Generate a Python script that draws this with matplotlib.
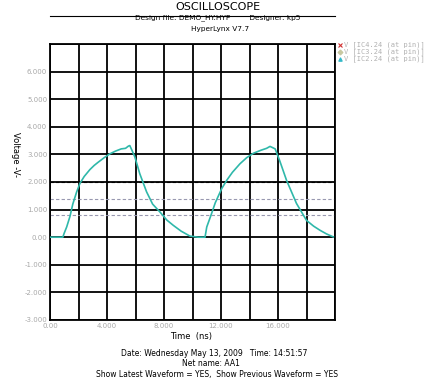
import matplotlib
matplotlib.use('Agg')
import matplotlib.pyplot as plt

# ── DATA ─────────────────────────────────────────────────────────────────────
time_ns = [0.0, 0.9, 1.0, 1.17, 1.4, 1.6, 1.87, 2.1, 2.4, 2.8, 3.1, 3.39, 3.8,
           4.2, 4.6, 5.0, 5.3, 5.5, 5.6, 5.75, 5.96, 6.3, 6.78, 7.2, 7.72, 8.2,
           8.65, 9.2, 9.82, 10.4, 10.88, 11.0, 11.3, 11.6, 12.05, 12.4, 12.8,
           13.33, 13.8, 14.27, 14.8, 15.2, 15.44, 15.8, 16.1, 16.6, 17.3, 18.0,
           18.5, 18.95, 19.4, 19.88]
volts   = [0.0, 0.0, 0.15, 0.37, 0.75, 1.2, 1.64, 1.95, 2.2, 2.45, 2.6, 2.72,
           2.88, 3.02, 3.12, 3.2, 3.22, 3.3, 3.32, 3.15, 2.9, 2.3, 1.64, 1.2,
           0.91, 0.62, 0.43, 0.22, 0.04, 0.0, 0.0, 0.37, 0.8, 1.25, 1.76, 2.06,
           2.35, 2.66, 2.88, 3.04, 3.15, 3.22, 3.29, 3.2, 2.8, 2.06, 1.22, 0.61,
           0.4, 0.25, 0.12, 0.01]
thresholds_black = [2.0]
thresholds_gray = [1.4, 0.8]
x_ticks = [0, 4, 8, 12, 16]
x_ticklabels = ["0.00", "4.000", "8.000", "12.000", "16.000"]
y_ticks = [-3, -2, -1, 0, 1, 2, 3, 4, 5, 6]
y_ticklabels = ["-3.000", "-2.000", "-1.000", "0.00", "1.000", "2.000",
                "3.000", "4.000", "5.000", "6.000"]
legend_labels = ["V [IC4.24 (at pin)]", "V [IC3.24 (at pin)]",
                 "V [IC2.24 (at pin)]"]
legend_marks = [("x", "#d03030"), ("D", "#c8c8a0"), ("^", "#30b8c8")]

C_WAVE = "#2fb8aa"
C_TICK = "#a8a8a8"

fig = plt.figure(figsize=(4.45, 3.84), dpi=100)
fig.patch.set_facecolor("white")
ax = fig.add_axes([50 / 445, 1 - 320 / 384, 285 / 445, 276 / 384])
ax.set_xlim(0, 20)
ax.set_ylim(-3, 7)

# grid
for gx in range(0, 21, 2):
    ax.axvline(gx, color="black", lw=1.3, zorder=1)
for gy in range(-3, 8):
    ax.axhline(gy, color="black", lw=1.3, zorder=1)
for s in ax.spines.values():
    s.set_linewidth(1.3)

for th in thresholds_black:
    ax.axhline(th, color="black", lw=0.8, ls=(0, (3, 2)), zorder=2)
for th in thresholds_gray:
    ax.axhline(th, color="#9898b0", lw=0.8, ls=(0, (3, 2)), zorder=2)

ax.plot(time_ns, volts, color=C_WAVE, lw=1.2, zorder=3)

ax.set_xticks(x_ticks)
ax.set_xticklabels(x_ticklabels, fontsize=5, color=C_TICK)
ax.set_yticks(y_ticks)
ax.set_yticklabels(y_ticklabels, fontsize=5, color=C_TICK)
ax.tick_params(length=0, pad=2)

# axis labels
fig.text(191 / 445, 1 - 336 / 384, "Time  (ns)", fontsize=6, ha="center",
         va="center")
fig.text(15 / 445, 1 - 155 / 384, "Voltage -V-", fontsize=6, ha="center",
         va="center", rotation=-90)

# header
fig.text(218 / 445, 1 - 7 / 384, "OSCILLOSCOPE", fontsize=8, ha="center",
         va="center")
fig.add_artist(plt.Line2D([50 / 445, 335 / 445], [1 - 15.5 / 384, 1 - 15.5 / 384],
                          color="black", lw=0.8))
fig.text(218 / 445, 1 - 18 / 384,
         "Design file: DEMO_HY.HYP        Designer: kp5",
         fontsize=5.3, ha="center", va="center")
fig.text(220 / 445, 1 - 28.5 / 384, "HyperLynx V7.7", fontsize=5.3,
         ha="center", va="center")

# legend
for i, (lab, (mk, mc)) in enumerate(zip(legend_labels, legend_marks)):
    yy = 1 - (45 + 7 * i) / 384
    fig.add_artist(plt.Line2D([340 / 445], [yy], marker=mk, color=mc,
                              markersize=2.5, lw=0, markeredgewidth=0.8))
    fig.text(344 / 445, yy, lab, fontsize=5, color="#b0b0b0", ha="left",
             va="center", family="monospace")

# footer
fig.text(214 / 445, 1 - 354 / 384,
         "Date: Wednesday May 13, 2009   Time: 14:51:57",
         fontsize=5.5, ha="center", va="center")
fig.text(211 / 445, 1 - 364 / 384, "Net name: AA1", fontsize=5.5,
         ha="center", va="center")
fig.text(217 / 445, 1 - 375 / 384,
         "Show Latest Waveform = YES,  Show Previous Waveform = YES",
         fontsize=5.5, ha="center", va="center")

fig.savefig("out.png", dpi=100, facecolor="white")
